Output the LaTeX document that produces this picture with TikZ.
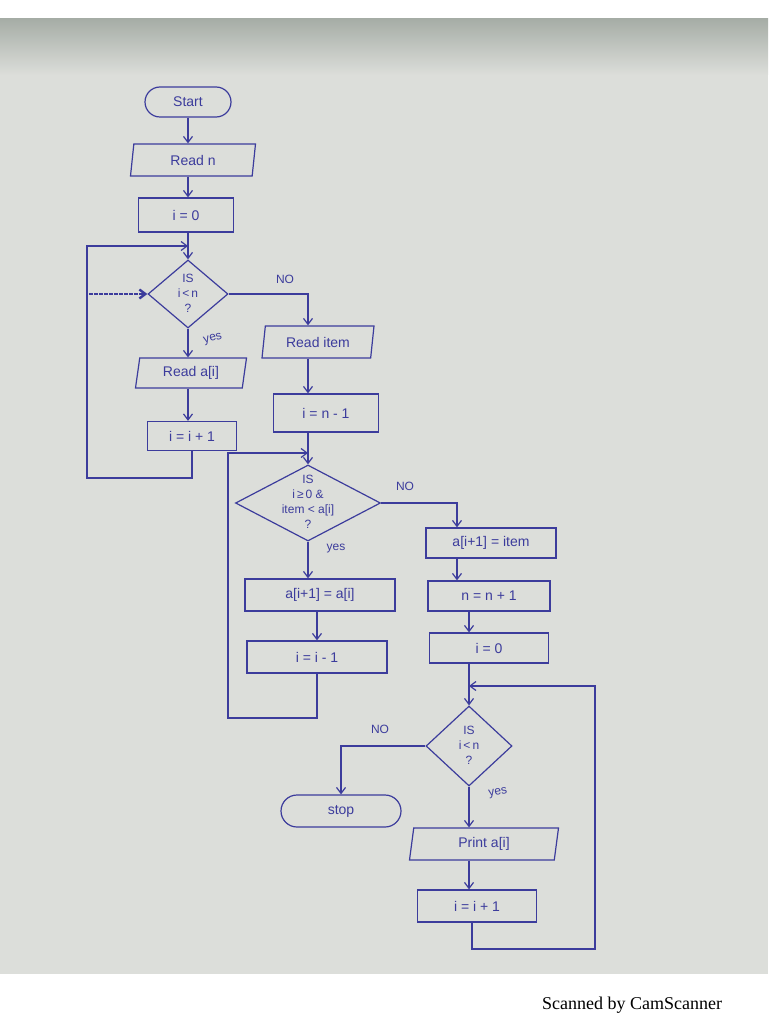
\documentclass[tikz,border=0pt]{standalone}
\usepackage{fontspec}
\setmainfont{Liberation Sans}
\newfontfamily\timesf{Liberation Serif}
\usetikzlibrary{shapes.geometric,arrows.meta,calc}
\definecolor{ink}{HTML}{3C3C9C}
\definecolor{paper}{HTML}{DCDEDA}
\definecolor{paperdark}{HTML}{A6ADA6}
\newcommand{\dtext}[1]{\smash{\makebox[0pt]{\raisebox{-0.25em}{\begin{tabular}{@{}c@{}}#1\end{tabular}}}}}
\begin{document}
\begin{tikzpicture}[x=1pt,y=-1pt,
  ln/.style={draw=ink, line width=1.2pt},
  arr/.style={ln, -{Straight Barb[length=6pt,width=9pt]}},
  box/.style={rectangle, draw=ink, line width=1.2pt, text=ink, inner sep=0pt, font=\fontsize{14}{16}\selectfont},
  term/.style={box, rounded corners=15pt},
  io/.style={box, trapezium, trapezium left angle=72, trapezium right angle=108, trapezium stretches body},
  dec/.style={box, diamond, font=\fontsize{12}{15}\selectfont},
  lab/.style={text=ink, font=\fontsize{12}{14}\selectfont, inner sep=0pt}]
\useasboundingbox (0,0) rectangle (768,1024);
\fill[white] (0,0) rectangle (768,1024);
\fill[paper] (0,19) rectangle (768,974);
\shade[top color=paperdark, bottom color=paper] (0,19) rectangle (768,75);

% nodes
\node[term, minimum width=86, minimum height=30] (start) at (188,102) {Start};
\node[io, minimum width=125, minimum height=32] (readn) at (193,160) {Read n};
\node[box, minimum width=95, minimum height=34] (i0) at (186,215) {i = 0};
\node[dec, minimum width=80, minimum height=68] (d1) at (188,294) {\dtext{IS\\ i\,<\,n\\ ?}};
\node[io, minimum width=111, minimum height=30] (reada) at (191,373) {Read a[i]};
\node[box, minimum width=89, minimum height=29] (inc1) at (192,436) {i = i + 1};
\node[io, minimum width=112, minimum height=32] (readitem) at (318,342) {Read item};
\node[box, minimum width=105, minimum height=38] (inm1) at (326,413) {i = n - 1};
\node[dec, minimum width=145, minimum height=76] (d2) at (308,503) {\dtext{IS\\ i\,≥\,0 \&\\ item < a[i]\\ ?}};
\node[box, minimum width=150, minimum height=32] (shift) at (320,595) {a[i+1] = a[i]};
\node[box, minimum width=140, minimum height=32] (dec1) at (317,657) {i = i - 1};
\node[box, minimum width=130, minimum height=30] (assign) at (491,543) {a[i+1] = item};
\node[box, minimum width=122, minimum height=30] (ninc) at (489,596) {n = n + 1};
\node[box, minimum width=119, minimum height=30] (i02) at (489,648) {i = 0};
\node[dec, minimum width=86, minimum height=80] (d3) at (469,746) {\dtext{IS\\ i\,<\,n\\ ?}};
\node[term, rounded corners=16pt, minimum width=120, minimum height=32] (stop) at (341,811) {stop};
\node[io, minimum width=149, minimum height=32] (print) at (484,844) {Print a[i]};
\node[box, minimum width=119, minimum height=32] (inc2) at (477,906) {i = i + 1};

% helper coordinates
\coordinate (sp1) at (308,0);
\coordinate (sp2) at (457,0);
\coordinate (sp3) at (469,0);
\coordinate (sp4) at (472,0);
\coordinate (l1) at (87,478);
\coordinate (j1) at (188,246);
\coordinate (s1) at (89,294);
\coordinate (l2) at (228,718);
\coordinate (j2) at (308,453);
\coordinate (l3) at (595,949);
\coordinate (j3) at (469,686);

% first loop
\draw[arr] (start.south) -- (start.south |- readn.north);
\draw[arr] (start.south |- readn.south) -- (start.south |- i0.north);
\draw[arr] (d1.north |- i0.south) -- (d1.north);
\draw[arr] (d1.south) -- (d1.south |- reada.north);
\draw[arr] (d1.south |- reada.south) -- (d1.south |- inc1.north);
\draw[arr] (inc1.south) |- (l1) |- (j1);
\draw[arr, line width=2.4pt, dash pattern=on 4pt off 1pt] (s1) -- (d1.west);
\node[lab] at (285,279) {NO};
\node[lab, rotate=15] at (213,339) {yes};

% insertion
\draw[arr] (d1.east) -| (sp1 |- readitem.north);
\draw[arr] (sp1 |- readitem.south) -- (sp1 |- inm1.north);
\draw[arr] (sp1 |- inm1.south) -- (d2.north);
\draw[arr] (d2.south) -- (d2.south |- shift.north);
\draw[arr] (dec1.north |- shift.south) -- (dec1.north);
\draw[arr] (dec1.south) |- (l2) |- (j2);
\node[lab] at (405,486) {NO};
\node[lab] at (336,549) {yes};

\draw[arr] (d2.east) -| (sp2 |- assign.north);
\draw[arr] (sp2 |- assign.south) -- (sp2 |- ninc.north);
\draw[arr] (sp3 |- ninc.south) -- (sp3 |- i02.north);
\draw[arr] (sp3 |- i02.south) -- (d3.north);

% print loop
\draw[arr] (d3.south) -- (d3.south |- print.north);
\draw[arr] (d3.south |- print.south) -- (d3.south |- inc2.north);
\draw[arr] (sp4 |- inc2.south) |- (l3) |- (j3);
\draw[arr] (d3.west) -| (stop.north);
\node[lab] at (380,729) {NO};
\node[lab, rotate=10] at (498,793) {yes};

\node[font=\timesf\fontsize{18}{20}\selectfont, text=black] (cap) at (632,1005) {Scanned by CamScanner};
\end{tikzpicture}
\end{document}
